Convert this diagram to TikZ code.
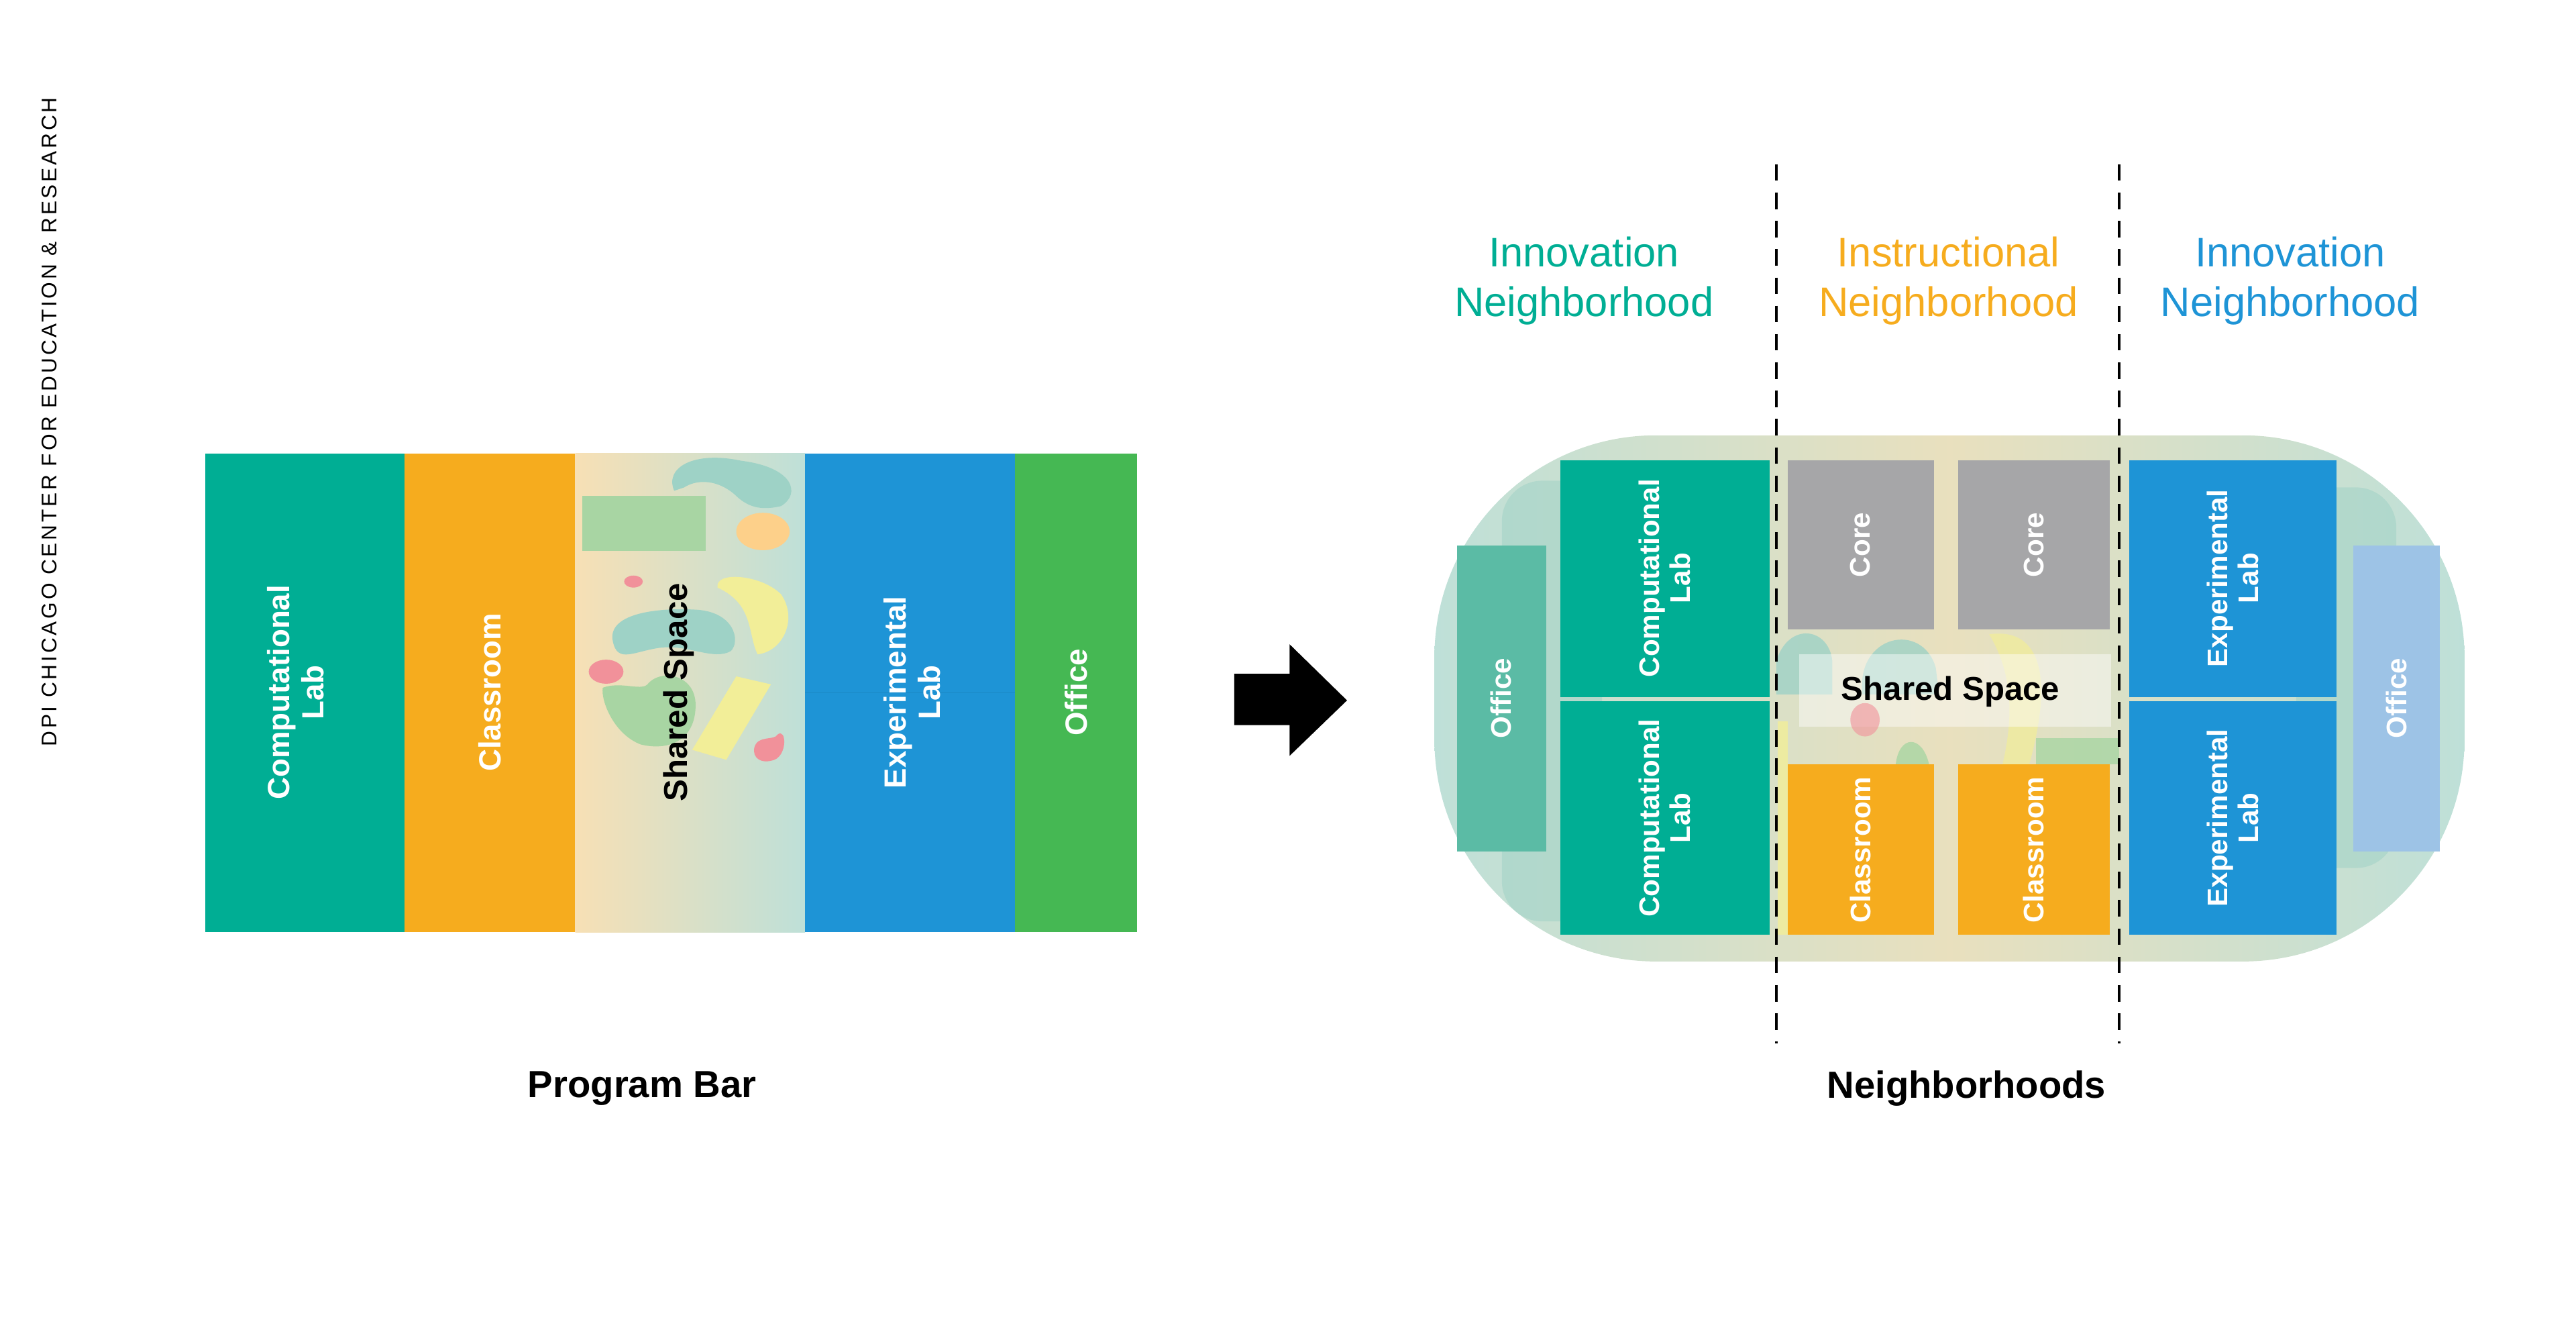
\documentclass[tikz,border=0pt]{standalone}
\usepackage{fontspec}
\setmainfont{Liberation Sans}
\begin{document}
\begin{tikzpicture}[x=0.0995mm,y=-0.0995mm,
  wt/.style={text=white,font=\bfseries\fontsize{13}{14.5}\selectfont,rotate=90,align=center},
  wtr/.style={text=white,font=\bfseries\fontsize{12}{13}\selectfont,rotate=90,align=center},
  head/.style={font=\fontsize{17.5}{21}\selectfont,align=center},
  ttl/.style={font=\bfseries\fontsize{16}{18}\selectfont}]
\definecolor{cteal}{HTML}{00AE94}
\definecolor{corange}{HTML}{F6AC1E}
\definecolor{cblue}{HTML}{1E94D6}
\definecolor{cgreen}{HTML}{45B853}
\definecolor{cgray}{HTML}{A6A6A8}
\definecolor{coff}{HTML}{5BBBA5}
\definecolor{coffb}{HTML}{9DC3E6}
\definecolor{bteal}{HTML}{9ED2C6}
\definecolor{bgreen}{HTML}{A8D5A3}
\definecolor{byel}{HTML}{F2EE98}
\definecolor{bpink}{HTML}{F1919A}
\definecolor{borg}{HTML}{FDD08A}
\definecolor{beige}{HTML}{F7E0B5}
\definecolor{mint}{HTML}{BEE0D8}
\useasboundingbox (0mm,0mm) rectangle (384mm,-199.6mm);
% side text
\node[rotate=90,font=\fontsize{9}{10}\selectfont\addfontfeature{LetterSpace=12}] (side) at (74,632) {DPI CHICAGO CENTER FOR EDUCATION \& RESEARCH};
% program bar
\fill[cteal] (308,679) rectangle (606,1396);
\fill[corange] (606,679) rectangle (862,1396);
\shade[left color=beige,right color=mint] (862,679) rectangle (1206,1396);
\fill[cblue] (1206,679) rectangle (1521,1396);
\draw[cblue!85!black,opacity=0.25] (1206,1037) -- (1521,1037);
\fill[cgreen] (1521,679) rectangle (1703,1396);
% blobs
\fill[bteal] (1010,735) .. controls (995,700) and (1040,675) .. (1110,690) .. controls (1190,700) and (1200,740) .. (1170,758) .. controls (1140,765) and (1120,760) .. (1100,740) .. controls (1070,715) and (1040,720) .. (1025,730) -- cycle;
\fill[bgreen] (872,743) rectangle (1057,825);
\fill[borg] (1143,796) ellipse (40 and 28);
\fill[bpink] (949,871) ellipse (14 and 9);
\fill[byel] (1075,880) .. controls (1070,855) and (1140,860) .. (1170,890) .. controls (1195,925) and (1175,975) .. (1135,980) .. controls (1120,950) and (1130,905) .. (1075,880) -- cycle;
\fill[bteal] (918,960) .. controls (910,920) and (980,910) .. (1040,913) .. controls (1100,915) and (1110,960) .. (1095,975) .. controls (1070,990) and (1030,965) .. (990,970) .. controls (950,975) and (925,995) .. (918,960) -- cycle;
\fill[bpink] (908,1006) ellipse (26 and 18);
\fill[bgreen] (903,1030) .. controls (930,1020) and (960,1035) .. (970,1025) .. controls (990,1000) and (1045,1010) .. (1042,1060) .. controls (1040,1110) and (1000,1125) .. (960,1115) .. controls (920,1100) and (900,1050) .. (903,1030) -- cycle;
\fill[byel] (1103,1013) -- (1155,1025) -- (1088,1138) -- (1037,1123) -- cycle;
\fill[bpink] (1130,1120) .. controls (1135,1100) and (1160,1110) .. (1165,1100) .. controls (1178,1090) and (1180,1130) .. (1160,1138) .. controls (1140,1145) and (1127,1135) .. (1130,1120) -- cycle;
\node[wt] (pcl) at (443,1037) {Computational\\Lab};
\node[wt] (pcr) at (734,1037) {Classroom};
\node[rotate=90,font=\bfseries\fontsize{14}{16}\selectfont] (pss) at (1017,1037) {Shared Space};
\node[wt] (pel) at (1366,1037) {Experimental\\Lab};
\node[wt] (pof) at (1612,1037) {Office};
\node[ttl] (pb) at (962,1630) {Program Bar};
% arrow
\fill[black] (1849,1009) -- (1932,1009) -- (1932,965) -- (2018,1049) -- (1932,1132) -- (1932,1086) -- (1849,1086) -- cycle;
% capsule
\begin{scope}
\clip[rounded corners=33mm] (2149,652) rectangle (3692,1440);
\shade[left color=mint,right color=mint,middle color=beige!75!mint] (2149,652) rectangle (3692,1440);
\fill[bteal,opacity=0.5,rounded corners=6mm] (2250,720) rectangle (2400,1380);
\fill[bteal,opacity=0.5,rounded corners=6mm] (3440,730) rectangle (3590,1300);
\end{scope}
\fill[bteal,opacity=0.8] (2661,990) .. controls (2680,930) and (2740,940) .. (2745,990) -- (2745,1040) -- (2661,1040) -- cycle;
\fill[bteal,opacity=0.8] (2790,1040) .. controls (2780,950) and (2880,930) .. (2900,1000) -- (2905,1040) -- cycle;
\fill[byel,opacity=0.7] (2980,950) .. controls (3050,940) and (3080,1000) .. (3040,1145) -- (3000,1145) .. controls (3020,1060) and (3010,1000) .. (2980,950) -- cycle;
\fill[bgreen,opacity=0.8] (3050,1105) rectangle (3175,1145);
\fill[bgreen,opacity=0.8] (2840,1145) .. controls (2845,1100) and (2880,1100) .. (2890,1145) -- cycle;
\fill[byel,opacity=0.8] (2663,1080) rectangle (2678,1400);
\fill[white,opacity=0.45] (2695,980) rectangle (3163,1088);
\fill[bpink,opacity=0.6] (2794,1078) ellipse (22 and 25);
% rooms
\fill[coff] (2183,817) rectangle (2316,1275);
\fill[coffb] (3525,817) rectangle (3655,1275);
\fill[cteal] (2338,689) rectangle (2651,1044);
\fill[cteal] (2338,1050) rectangle (2651,1400);
\fill[cgray] (2678,689) rectangle (2897,943);
\fill[cgray] (2934,689) rectangle (3161,943);
\fill[corange] (2678,1145) rectangle (2897,1400);
\fill[corange] (2934,1145) rectangle (3161,1400);
\fill[cblue] (3190,689) rectangle (3500,1044);
\fill[cblue] (3190,1050) rectangle (3500,1400);
\node[wtr] (rof1) at (2249,1046) {Office};
\node[wtr] (rof2) at (3590,1046) {Office};
\node[wtr] (rcl1) at (2494,866) {Computational\\Lab};
\node[wtr] (rcl2) at (2494,1225) {Computational\\Lab};
\node[wtr] (rco1) at (2787,816) {Core};
\node[wtr] (rco2) at (3047,816) {Core};
\node[wtr] (rcr1) at (2787,1273) {Classroom};
\node[wtr] (rcr2) at (3047,1273) {Classroom};
\node[wtr] (rel1) at (3345,866) {Experimental\\Lab};
\node[wtr] (rel2) at (3345,1225) {Experimental\\Lab};
\node[font=\bfseries\fontsize{14}{16}\selectfont] (rss) at (2922,1036) {Shared Space};
% dashed dividers
\coordinate (d1a) at (2661,246); \coordinate (d1b) at (2661,1563);
\coordinate (d2a) at (3175,246); \coordinate (d2b) at (3175,1563);
\draw[line width=1.2pt,dash pattern=on 7pt off 5pt] (d1a) -- (d1b);
\draw[line width=1.2pt,dash pattern=on 7pt off 5pt] (d2a) -- (d2b);
% headings
\node[head,text=cteal] (h1) at (2373,421) {Innovation\\Neighborhood};
\node[head,text=corange] (h2) at (2919,421) {Instructional\\Neighborhood};
\node[head,text=cblue] (h3) at (3431,421) {Innovation\\Neighborhood};
\node[ttl] (nb) at (2946,1630) {Neighborhoods};
\end{tikzpicture}
\end{document}
